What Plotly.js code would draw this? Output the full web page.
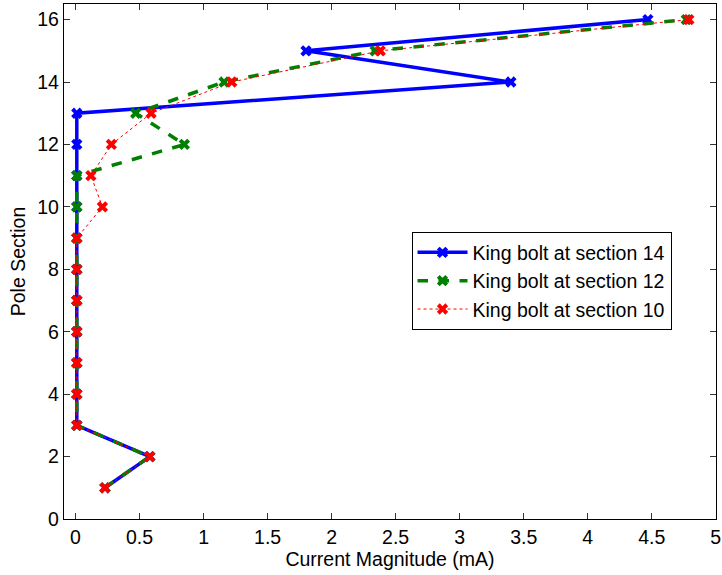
<!DOCTYPE html>
<html>
<head>
<meta charset="utf-8">
<script src="https://cdn.plot.ly/plotly-3.0.1.min.js"></script>
<style>html,body{margin:0;padding:0;background:#fff;}#chart{width:722px;height:575px;}</style>
</head>
<body>
<div id="chart"></div>
<script>
const sections = [1,2,3,4,5,6,7,8,9,10,11,12,13,14,15,16];
const bolt14 = [0.23,0.58,0.01,0.01,0.01,0.01,0.01,0.01,0.01,0.01,0.01,0.01,0.01,3.40,1.80,4.47];
const bolt12 = [0.23,0.58,0.01,0.01,0.01,0.01,0.01,0.01,0.01,0.01,0.01,0.85,0.47,1.16,2.34,4.77];
const bolt10 = [0.23,0.58,0.01,0.01,0.01,0.01,0.01,0.01,0.01,0.21,0.12,0.28,0.59,1.22,2.38,4.79];
const names = ['King bolt at section 14','King bolt at section 12','King bolt at section 10'];
const xTicks = [0,0.5,1,1.5,2,2.5,3,3.5,4,4.5,5];
const xTickText = ['0','0.5','1','1.5','2','2.5','3','3.5','4','4.5','5'];
const yTicks = [0,2,4,6,8,10,12,14,16];

const font = {family:'Liberation Sans, Arial, Helvetica, sans-serif', size:19.5, color:'#000'};

const traces = [
  {x:bolt14, y:sections, name:names[0], mode:'lines+markers', line:{color:'#0000ff', width:3.5, dash:'solid'}, marker:{symbol:'x', size:10, color:'#0000ff'}},
  {x:bolt12, y:sections, name:names[1], mode:'lines+markers', line:{color:'#008000', width:3.5, dash:'dash'}, marker:{symbol:'x', size:10, color:'#008000'}},
  {x:bolt10, y:sections, name:names[2], mode:'lines+markers', line:{color:'#ff0000', width:1, dash:'dot'}, marker:{symbol:'x', size:10, color:'#ff0000'}}
];

const axisCommon = {showline:true, linecolor:'#000', linewidth:1.2, mirror:'allticks', ticks:'inside', ticklen:6, tickcolor:'#333', showgrid:false, zeroline:false, tickfont:font, ticklabeloverflow:'allow'};

const layout = {
  width:722, height:575,
  margin:{l:64, r:6, t:4, b:56},
  paper_bgcolor:'#fff', plot_bgcolor:'#fff',
  font:font,
  showlegend:true,
  xaxis:Object.assign({}, axisCommon, {range:[-0.09,5.002], tickvals:xTicks, ticktext:xTickText, title:{text:'Current Magnitude (mA)', font:font, standoff:4}}),
  yaxis:Object.assign({}, axisCommon, {range:[0,16.5], tickvals:yTicks, title:{text:'Pole Section', font:font, standoff:6}}),
  legend:{x:0.533, y:0.557, xanchor:'left', yanchor:'top', bgcolor:'#fff', bordercolor:'#000', borderwidth:1, font:font, itemwidth:50, tracegroupgap:0}
};

Plotly.newPlot('chart', traces, layout, {displayModeBar:false, staticPlot:true});
</script>
</body>
</html>
